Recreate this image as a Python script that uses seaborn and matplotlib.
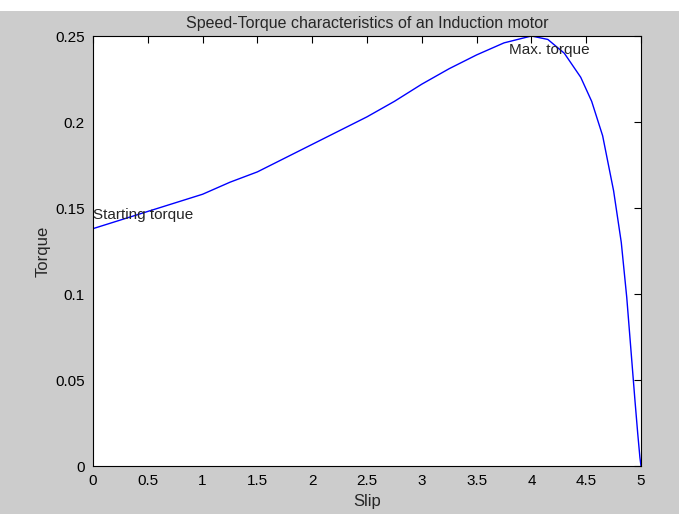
"""
Speed-torque characteristic of an induction motor, MATLAB-style figure.
"""

import numpy as np
import matplotlib
matplotlib.use('Agg')
import matplotlib.pyplot as plt
from matplotlib.patches import Rectangle
from matplotlib.ticker import FormatStrFormatter
import seaborn as sns

slip = [0, 0.25, 0.5, 0.75, 1.0, 1.25, 1.5, 1.75, 2.0, 2.25, 2.5, 2.75, 3.0,
        3.25, 3.5, 3.75, 4.0, 4.15, 4.3, 4.45, 4.55, 4.65, 4.75, 4.82, 4.87,
        4.915, 4.945, 4.97, 4.99, 5.0]
torque = [0.138, 0.143, 0.148, 0.153, 0.158, 0.165, 0.171, 0.179, 0.187, 0.195,
          0.203, 0.212, 0.222, 0.231, 0.239, 0.246, 0.250, 0.248, 0.240, 0.226,
          0.212, 0.192, 0.160, 0.130, 0.098, 0.062, 0.038, 0.019, 0.005, 0.0]

x_ticks = [0, 0.5, 1, 1.5, 2, 2.5, 3, 3.5, 4, 4.5, 5]
y_ticks = [0, 0.05, 0.1, 0.15, 0.2, 0.25]

sns.set_style('white')
plt.rcParams['font.family'] = ['Liberation Sans', 'DejaVu Sans']
plt.rcParams['font.size'] = 11

fig = plt.figure(figsize=(6.79, 5.14), dpi=100, facecolor='#cccccc')
fig.patches.append(Rectangle((0, 1 - 11 / 514), 1, 11 / 514, transform=fig.transFigure,
                             facecolor='white', edgecolor='none'))
ax = fig.add_axes([93 / 679, 48 / 514, 548 / 679, 430 / 514])
ax.set_facecolor('white')

sns.lineplot(x=slip, y=torque, color='#0000ff', linewidth=1, ax=ax, sort=False)

ax.set_xlim(0, 5)
ax.set_ylim(0, 0.25)
ax.set_xticks(x_ticks)
ax.set_yticks(y_ticks)
ax.yaxis.set_major_formatter(FormatStrFormatter('%g'))
ax.xaxis.set_major_formatter(FormatStrFormatter('%g'))
ax.tick_params(direction='in', length=5, width=0.8, top=True, right=True,
               colors='black', labelsize=11, pad=6)
for sp in ax.spines.values():
    sp.set_color('black')
    sp.set_linewidth(0.8)

ax.text(0, 0.146, 'Starting torque', ha='left', va='center', fontsize=11)
ax.text(3.8, 0.242, 'Max. torque', ha='left', va='center', fontsize=11)

ax.set_title('Speed-Torque characteristics of an Induction motor', fontsize=11.5, pad=6)
ax.set_xlabel('Slip', fontsize=12, labelpad=4)
ax.set_ylabel('Torque', fontsize=12, labelpad=3)

fig.savefig('out.png', dpi=100, facecolor=fig.get_facecolor())
